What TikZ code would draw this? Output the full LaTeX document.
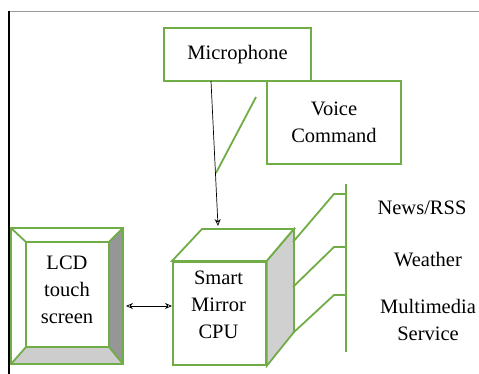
\documentclass[tikz,border=0pt]{standalone}
\usepackage{fontspec}
\setmainfont{Liberation Serif}
\usetikzlibrary{arrows.meta}
\definecolor{gr}{RGB}{112,173,71}
\definecolor{sidegray}{RGB}{208,208,208}
\definecolor{darkgray2}{RGB}{150,150,150}
\definecolor{lightgray2}{RGB}{205,205,205}
\begin{document}
\begin{tikzpicture}[x=1pt,y=-1pt,
  gline/.style={draw=gr,line width=1.8pt},
  box/.style={gline,fill=white,inner sep=0pt,align=center,font=\fontsize{20.5}{27}\selectfont},
  lbl/.style={inner sep=0pt,align=center,font=\fontsize{20.5}{27}\selectfont},
  conn/.style={draw=black,line width=0.7pt},
  tip/.style={-{Stealth[length=7pt,width=6pt,open]}}]
\useasboundingbox (0,0) rectangle (479,374);
% frame
\draw[gray!80,line width=1pt] (9,12) -- (479,12);
\draw[black,line width=2.2pt] (9,11.5) -- (9,374);
% Microphone and Voice Command
\node[box,minimum width=147pt,minimum height=53pt] (mic) at (237.5,54.5) {Microphone};
\node[box,minimum width=134pt,minimum height=83pt] (vc) at (334,122.5) {Voice\\Command};
\coordinate (v1) at (256,97);
\coordinate (v2) at (216,173);
\draw[gline] (v1) -- (v2);
% LCD bevel box
\coordinate (o1) at (11,228); \coordinate (o2) at (123,228);
\coordinate (o3) at (123,364); \coordinate (o4) at (11,364);
\coordinate (i1) at (26,242); \coordinate (i2) at (109,242);
\coordinate (i3) at (109,347); \coordinate (i4) at (26,347);
\fill[white] (o1) rectangle (o3);
\fill[darkgray2] (i2) -- (o2) -- (o3) -- (i3) -- cycle;
\fill[lightgray2] (i4) -- (i3) -- (o3) -- (o4) -- cycle;
\draw[gline,line join=miter] (o1) rectangle (o3);
\draw[gline] (i1) rectangle (i3);
\draw[gline] (o1) -- (i1) (o2) -- (i2) (o3) -- (i3) (o4) -- (i4);
\node[lbl] (lcd) at (67,290) {LCD\\touch\\screen};
% CPU cube
\node[box,minimum width=93pt,minimum height=103pt,anchor=north west] (cpu) at (172,261) {};
\node[lbl] (cputxt) at (218.5,305) {Smart\\Mirror\\CPU};
\coordinate (t1) at (202,229); \coordinate (t2) at (294,229); \coordinate (b2) at (294,332);
\filldraw[gline,fill=white] (cpu.north west) -- (t1) -- (t2) -- (cpu.north east) -- cycle;
\filldraw[gline,fill=sidegray] (cpu.north east) -- (t2) -- (b2) -- (cpu.south east) -- cycle;
% connectors
\coordinate (micout) at (211,81);
\draw[conn,tip] (micout) -- (218,226);
\coordinate (lcdR) at (126,306);
\draw[conn,{Stealth[length=7pt,width=6pt,open]}-{Stealth[length=7pt,width=6pt,open]}] (lcdR) -- (cpu.west |- lcdR);
% bus
\coordinate (bt) at (346,184); \coordinate (bb) at (346,352);
\draw[gline] (bt) -- (bb);
\coordinate (s1) at (334,194); \coordinate (s2) at (334,247); \coordinate (s3) at (334,295);
\coordinate (c1) at (293,242); \coordinate (c2) at (293,287); \coordinate (c3) at (293,333);
\draw[gline] (c1) -- (s1) -- (s1 -| bt);
\draw[gline] (c2) -- (s2) -- (s2 -| bt);
\draw[gline] (c3) -- (s3) -- (s3 -| bt);
% service labels
\node[lbl] (news) at (422,208) {News/RSS};
\node[lbl] (weather) at (428,260) {Weather};
\node[lbl] (mm) at (428,320) {Multimedia\\Service};
\end{tikzpicture}
\end{document}
